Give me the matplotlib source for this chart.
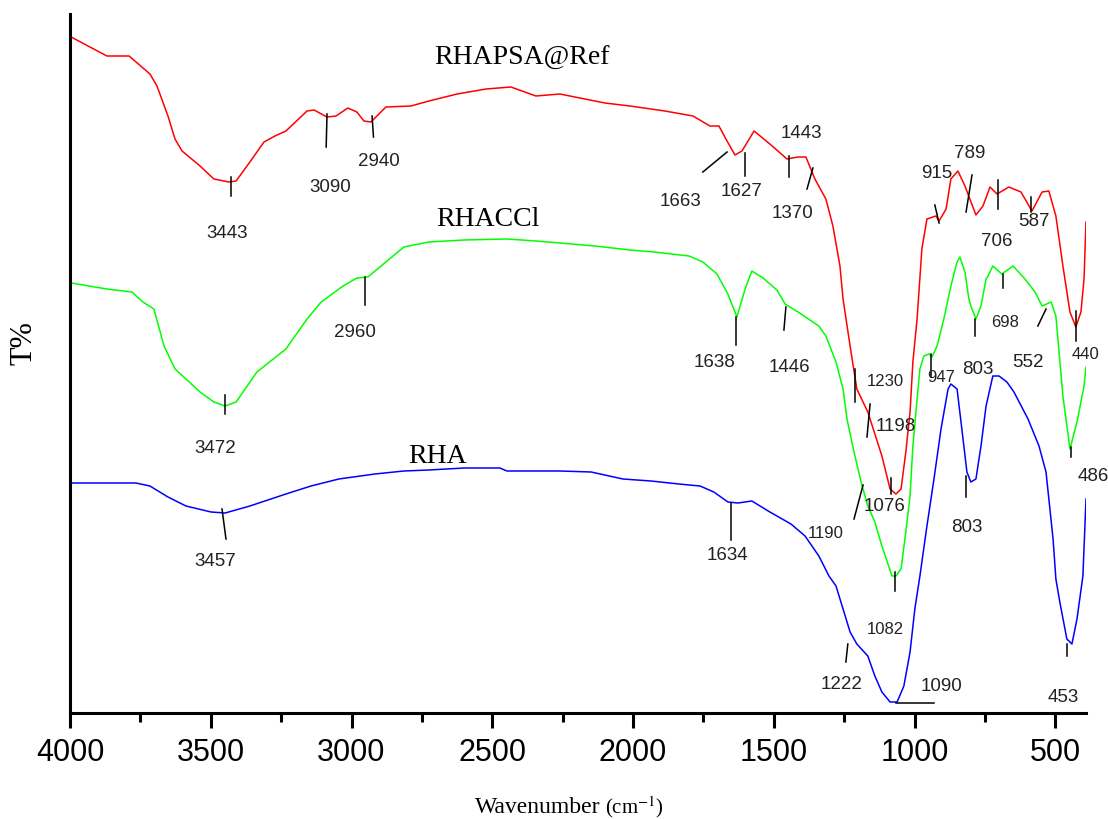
import matplotlib.pyplot as plt
from matplotlib.ticker import MultipleLocator

plt.rcParams['font.family'] = ['Liberation Sans', 'DejaVu Sans']
plt.rcParams['mathtext.fontset'] = 'stix'

# RHAPSA@Ref (red)
red_wn = [3996, 3869, 3790, 3716, 3691, 3652, 3627, 3602, 3538, 3489, 3435, 3410, 3361, 3311,
          3272, 3233, 3158, 3133, 3087, 3055, 3013, 2981, 2956, 2931, 2878, 2789, 2725, 2625,
          2522, 2434, 2345, 2260, 2100, 2011, 1887, 1787, 1727, 1695, 1670, 1638, 1613, 1570,
          1514, 1453, 1414, 1386, 1354, 1315, 1290, 1265, 1254, 1229, 1205, 1166, 1116, 1087,
          1066, 1048, 1031, 1016, 1006, 991, 974, 956, 924, 913, 888, 871, 846, 821, 782, 757,
          732, 707, 665, 622, 583, 547, 523, 498, 473, 448, 427, 409, 398, 391]
red_t = [676, 657, 657, 639, 627, 597, 574, 562, 547, 534, 531, 532, 551, 571,
         577, 582, 602, 603, 596, 597, 605, 601, 592, 591, 606, 607, 612, 619,
         624, 626, 617, 619, 610, 607, 602, 597, 587, 587, 574, 558, 562, 582,
         569, 554, 556, 556, 534, 514, 487, 447, 414, 367, 324, 301, 257, 224,
         219, 224, 261, 301, 351, 394, 464, 494, 497, 492, 504, 534, 542, 527, 498, 507,
         526, 519, 526, 521, 502, 521, 522, 497, 447, 401, 386, 401, 434, 491]

# RHACCl (green)
green_wn = [3996, 3869, 3780, 3741, 3702, 3666, 3627, 3588, 3538, 3489, 3449, 3410, 3336, 3233,
            3158, 3108, 3030, 2981, 2942, 2814, 2725, 2601, 2448, 2345, 2260, 2135, 2011, 1926,
            1801, 1752, 1702, 1663, 1631, 1602, 1578, 1538, 1489, 1460, 1414, 1340, 1315, 1279,
            1254, 1240, 1215, 1190, 1166, 1141, 1116, 1080, 1066, 1048, 1031, 1016, 1006, 991,
            981, 967, 949, 938, 920, 896, 871, 849, 839, 821, 807, 800, 782, 764, 746, 739, 722,
            690, 650, 608, 572, 547, 515, 498, 473, 448, 423, 398, 391]
green_t = [430, 424, 421, 411, 404, 367, 344, 334, 321, 311, 307, 311, 341, 364,
           394, 411, 427, 435, 436, 466, 471, 473, 474, 472, 470, 467, 463, 461,
           457, 451, 439, 419, 396, 424, 442, 435, 423, 409, 401, 387, 377, 351,
           324, 294, 261, 231, 207, 191, 167, 137, 137, 144, 181, 217, 267, 314,
           344, 357, 359, 356, 367, 394, 427, 451, 456, 441, 414, 407, 394, 407, 434, 437, 447,
           439, 447, 434, 421, 407, 411, 397, 317, 264, 291, 327, 346]

# RHA (blue)
blue_wn = [3996, 3766, 3716, 3652, 3588, 3499, 3449, 3361, 3233, 3144, 3045, 2917, 2814, 2725,
           2601, 2473, 2448, 2260, 2149, 2036, 1936, 1837, 1762, 1713, 1663, 1627, 1578, 1514,
           1439, 1389, 1340, 1304, 1279, 1254, 1229, 1205, 1166, 1141, 1116, 1087, 1062, 1038,
           1016, 999, 981, 956, 931, 906, 881, 871, 849, 832, 814, 800, 782, 764, 746, 722, 700,
           672, 647, 597, 558, 533, 508, 498, 484, 459, 441, 423, 402, 391]
blue_t = [230, 230, 227, 216, 207, 201, 200, 207, 219, 227, 234, 239, 242, 243,
          245, 245, 242, 242, 241, 234, 232, 229, 227, 221, 211, 210, 212, 201,
          189, 177, 157, 137, 127, 104, 81, 69, 57, 37, 21, 11, 11, 27,
          61, 104, 137, 187, 234, 284, 324, 329, 324, 284, 241, 231, 234, 267, 307, 337, 337,
          331, 321, 294, 267, 241, 174, 134, 111, 74, 69, 94, 137, 214]

# peak marks: (label, text x, text y, mark x0, y0, x1, y1)
red_peaks = [
    ('3443', 3442, 481, 3428, 536, 3428, 517),
    ('3090', 3076, 527, 3087, 599, 3090, 566),
    ('2940', 2902, 553, 2927, 597, 2922, 576),
    ('1663', 1830, 512, 1752, 541, 1666, 561),
    ('1627', 1613, 523, 1602, 560, 1602, 537),
    ('1443', 1403, 581, 1446, 557, 1446, 536),
    ('1370', 1435, 501, 1361, 545, 1382, 524),
    ('915', 920, 540, 928, 508, 913, 490),
    ('789', 803, 561, 796, 538, 817, 501),
    ('706', 707, 472, 704, 533, 704, 504),
    ('587', 576, 492, 587, 516, 587, 501),
    ('440', 391, 359, 427, 402, 427, 372),
    ('1230', 1105, 332, 1212, 344, 1212, 311),
    ('1198', 1066, 287, 1158, 309, 1169, 276),
    ('1076', 1105, 207, 1084, 235, 1084, 219),
]
green_peaks = [
    ('2960', 2988, 381, 2952, 436, 2952, 408),
    ('3472', 3485, 265, 3449, 318, 3449, 299),
    ('1638', 1709, 351, 1634, 396, 1634, 368),
    ('1446', 1446, 346, 1457, 406, 1464, 383),
    ('947', 906, 336, 942, 359, 942, 336),
    ('803', 775, 344, 785, 394, 785, 377),
    ('698', 679, 391, 686, 439, 686, 425),
    ('552', 597, 351, 533, 404, 562, 387),
    ('486', 366, 237, 444, 266, 444, 256),
    ('1190', 1315, 180, 1183, 228, 1215, 194),
    ('1082', 1105, 84, 1070, 141, 1070, 122),
]
blue_peaks = [
    ('3457', 3485, 153, 3460, 204, 3446, 174),
    ('1634', 1666, 158, 1652, 210, 1652, 173),
    ('803', 814, 187, 817, 237, 817, 216),
    ('1222', 1261, 29, 1237, 69, 1244, 51),
    ('1090', 906, 27, 1066, 10, 931, 10),
    ('453', 473, 16, 459, 69, 459, 57),
]
small_labels = ['1230', '1190', '1082', '947', '698', '440']

fig = plt.figure(figsize=(11.08, 8.2), dpi=100)
ax = fig.add_axes([70 / 1108, 106 / 820, 1016 / 1108, 699 / 820])

ax.plot(red_wn, red_t, color='#ff0000', lw=1.1)
ax.plot(green_wn, green_t, color='#00ff00', lw=1.1)
ax.plot(blue_wn, blue_t, color='#0000ff', lw=1.1)

for peaks, done in [(red_peaks, 'r'), (green_peaks, 'g'), (blue_peaks, 'b')]:
    for lab, tx, ty, x0, y0, x1, y1 in peaks:
        ax.plot([x0, x1], [y0, y1], color='black', lw=1.1, clip_on=False)
        fs = 12 if lab in small_labels else 13.5
        ax.text(tx, ty, lab, ha='center', va='center', fontsize=fs, color='#222222')

serif = ['Liberation Serif', 'DejaVu Serif']
ax.text(2395, 656, 'RHAPSA@Ref', ha='center', va='center', fontsize=20, family=serif)
ax.text(2515, 494, 'RHACCl', ha='center', va='center', fontsize=20, family=serif)
ax.text(2696, 257, 'RHA', ha='center', va='center', fontsize=20, family=serif)

ax.set_xlim(4000, 391)
ax.set_ylim(0, 699)
ax.xaxis.set_major_locator(MultipleLocator(500))
ax.xaxis.set_minor_locator(MultipleLocator(250))
ax.set_yticks([])
for s in ['top', 'right']:
    ax.spines[s].set_visible(False)
for s in ['left', 'bottom']:
    ax.spines[s].set_linewidth(2.2)
ax.tick_params(axis='x', which='major', length=11, width=2.2, labelsize=22, pad=6)
ax.tick_params(axis='x', which='minor', length=6.5, width=2.2)

fig.text(600 / 1108, 1 - 813 / 820, 'Wavenumber', ha='right', va='baseline', fontsize=17, family=serif)
fig.text(605 / 1108, 1 - 813 / 820, '(cm$^{-1}$)', ha='left', va='baseline', fontsize=15, family=serif)
fig.text(24 / 1108, 1 - 343 / 820, 'T%', ha='center', va='center', rotation=90, fontsize=22, family=serif)

fig.savefig('out.png', dpi=100)
